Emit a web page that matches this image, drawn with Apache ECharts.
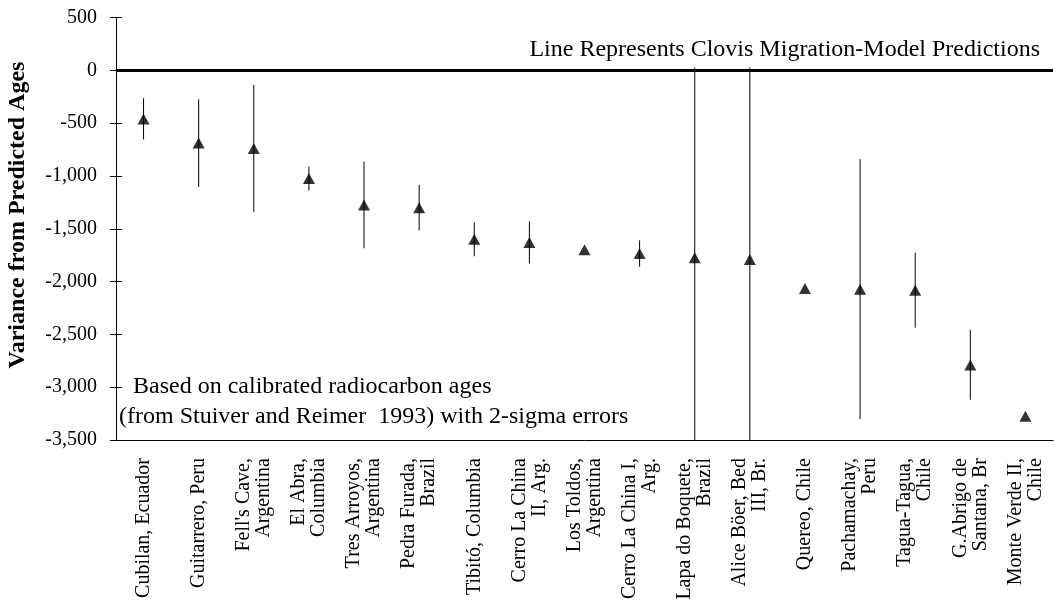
<!DOCTYPE html>
<html>
<head>
<meta charset="utf-8">
<script src="https://cdn.jsdelivr.net/npm/echarts@6/dist/echarts.min.js"></script>
<style>
  html, body { margin: 0; padding: 0; background: #fff; }
  #main { width: 1054px; height: 612px; }
</style>
</head>
<body>
<div id="main"></div>
<script>
// sites, in the order they are plotted
var sites = [
  'Cubilan, Ecuador',
  'Guitarrero, Peru',
  "Fell's Cave,\nArgentina",
  'El Abra,\nColumbia',
  'Tres Arroyos,\nArgentina',
  'Pedra Furada,\nBrazil',
  'Tibitó, Columbia',
  'Cerro La China\nII, Arg.',
  'Los Toldos,\nArgentina',
  'Cerro La China I,\nArg.',
  'Lapa do Boquete,\nBrazil',
  'Alice Böer, Bed\nIII, Br.',
  'Quereo, Chile',
  'Pachamachay,\nPeru',
  'Tagua-Tagua,\nChile',
  'G.Abrigo de\nSantana, Br',
  'Monte Verde II,\nChile'
]
// variance from predicted age (years)
var variance = [-460, -689, -740, -1025, -1275, -1300, -1600, -1630, -1698, -1735, -1774, -1792, -2066, -2072, -2082, -2789, -3274]
// 2-sigma error (half width), 0 = no bar drawn
var sigma2 = [195, 415, 600, 115, 410, 215, 160, 200, 0, 125, 1800, 1820, 0, 1230, 355, 330, 0]

var yMin = -3500, yMax = 500, yStep = 500

var myChart = echarts.init(document.getElementById('main'))

var serif = "'Liberation Serif', 'Times New Roman', serif"
var gridTop = 17.5, gridBottom = 172, gridLeft = 116, gridRight = 1
var gridH = 612 - gridTop - gridBottom
var gridW = 1054 - gridLeft - gridRight

var errData = []
sites.forEach(function (s, i) {
  if (sigma2[i] > 0) errData.push([i, variance[i] - sigma2[i], variance[i] + sigma2[i]])
})

var option = {
  animation: false,
  grid: { left: gridLeft, right: gridRight, top: gridTop, bottom: gridBottom },
  xAxis: [
    {
      type: 'category',
      data: sites,
      axisLine: { onZero: false, lineStyle: { color: '#000', width: 1 } },
      axisTick: { length: 5, lineStyle: { color: '#000' } },
      axisLabel: {
        rotate: 90,
        interval: 0,
        margin: 18,
        color: '#000',
        fontFamily: serif,
        fontSize: 20,
        lineHeight: 20
      },
      splitLine: { show: false }
    },
    {
      // second copy only for the inner half of the crossing ticks
      type: 'category',
      data: sites,
      position: 'top',
      offset: -gridH,
      axisLine: { show: false, onZero: false },
      axisTick: { length: 5, lineStyle: { color: '#000' } },
      axisLabel: { show: false },
      splitLine: { show: false }
    }
  ],
  yAxis: [
    {
      type: 'value',
      min: yMin,
      max: yMax,
      interval: yStep,
      axisLine: { show: true, onZero: false, lineStyle: { color: '#000', width: 1 } },
      axisTick: { show: true, length: 6, lineStyle: { color: '#000' } },
      axisLabel: {
        margin: 19,
        color: '#000',
        fontFamily: serif,
        fontSize: 20,
        formatter: function (v) { return v.toLocaleString('en-US') }
      },
      splitLine: { show: false }
    },
    {
      type: 'value',
      min: yMin,
      max: yMax,
      interval: yStep,
      position: 'right',
      offset: -gridW,
      axisLine: { show: false, onZero: false },
      axisTick: { show: true, length: 6, lineStyle: { color: '#000' } },
      axisLabel: { show: false },
      splitLine: { show: false }
    }
  ],
  graphic: [
    {
      type: 'text',
      rotation: Math.PI / 2,
      x: 18,
      y: 215,
      style: {
        text: 'Variance from Predicted Ages',
        font: 'bold 24px ' + serif,
        fill: '#000',
        align: 'center',
        verticalAlign: 'middle'
      }
    },
    {
      type: 'text',
      x: 1040,
      y: 50,
      style: {
        text: 'Line Represents Clovis Migration-Model Predictions',
        font: '24px ' + serif,
        fill: '#000',
        align: 'right',
        verticalAlign: 'middle'
      }
    },
    {
      type: 'text',
      x: 133,
      y: 387,
      style: {
        text: 'Based on calibrated radiocarbon ages',
        font: '24px ' + serif,
        fill: '#000',
        align: 'left',
        verticalAlign: 'middle'
      }
    },
    {
      type: 'text',
      x: 119,
      y: 417,
      style: {
        text: '(from Stuiver and Reimer  1993) with 2-sigma errors',
        font: '24px ' + serif,
        fill: '#000',
        align: 'left',
        verticalAlign: 'middle'
      }
    }
  ],
  series: [
    {
      type: 'custom',
      name: 'errors',
      data: errData,
      renderItem: function (params, api) {
        var x = api.value(0)
        var lo = Math.max(api.value(1), yMin)
        var hi = Math.min(api.value(2), yMax)
        var p1 = api.coord([x, hi])
        var p2 = api.coord([x, lo])
        return {
          type: 'line',
          shape: { x1: p1[0], y1: p1[1], x2: p2[0], y2: p2[1] },
          style: { stroke: '#000', lineWidth: 1 }
        }
      },
      z: 2
    },
    {
      type: 'scatter',
      name: 'variance',
      data: variance,
      symbol: 'triangle',
      symbolSize: [12, 11],
      itemStyle: { color: '#000' },
      z: 3,
      markLine: {
        silent: true,
        symbol: 'none',
        label: { show: false },
        lineStyle: { color: '#000', width: 3, type: 'solid' },
        data: [{ yAxis: 0 }]
      }
    }
  ]
}
myChart.setOption(option)
</script>
</body>
</html>
